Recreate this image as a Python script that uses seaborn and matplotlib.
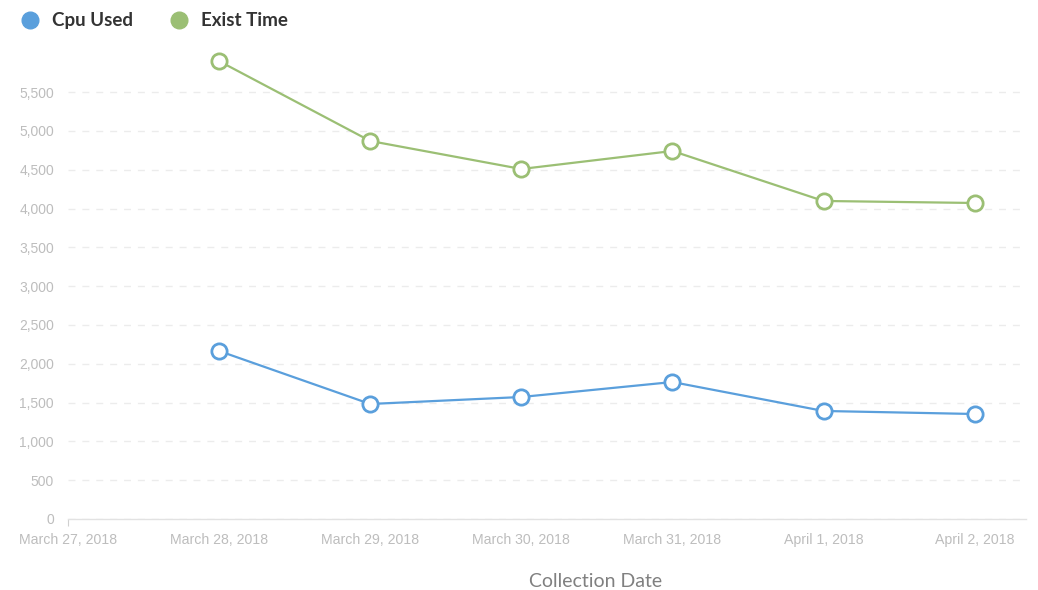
import matplotlib
matplotlib.use("Agg")
import matplotlib.pyplot as plt
from matplotlib.lines import Line2D
import seaborn as sns
import pandas as pd

dates = ["March 27, 2018", "March 28, 2018", "March 29, 2018", "March 30, 2018",
         "March 31, 2018", "April 1, 2018", "April 2, 2018"]
data_dates = dates[1:]
cpu_used = [2165, 1482, 1572, 1765, 1392, 1353]
exist_time = [5900, 4871, 4510, 4742, 4098, 4072]
series_names = ["Cpu Used", "Exist Time"]
colors = {"Cpu Used": "#5a9fdc", "Exist Time": "#9bbf74"}
yticks = list(range(0, 6000, 500))

rows = []
for name, vals in zip(series_names, [cpu_used, exist_time]):
    for d, v in zip(data_dates, vals):
        rows.append({"date": d, "pos": dates.index(d), "value": v, "series": name})
df = pd.DataFrame(rows)

sns.set_theme(style="white")
plt.rcParams["font.family"] = ["Liberation Sans", "DejaVu Sans"]

fig = plt.figure(figsize=(10.38, 5.90), dpi=100)
ax = fig.add_axes([68/1038, 1-519/590, (1026-68)/1038, (519-45.6)/590])

sns.lineplot(data=df, x="pos", y="value", hue="series", palette=colors,
             marker="o", markersize=11, markerfacecolor="white",
             markeredgewidth=2, linewidth=1.6, ax=ax, legend=False)
for line, name in zip(ax.get_lines(), series_names):
    line.set_markeredgecolor(colors[name])

ax.set_xlim(0, 6.34)
ax.set_ylim(0, 6100)
ax.set_xticks(range(len(dates)))
ax.set_xticklabels(dates)
ax.set_yticks(yticks)
ax.set_yticklabels([f"{t:,}" for t in yticks])
ax.tick_params(axis="x", colors="#d0d0d0", labelsize=10.2, length=5, width=0.8,
               bottom=True, pad=5, labelcolor="#bdbdbd")
for i, t in enumerate(ax.xaxis.get_major_ticks()):
    if i > 0:
        t.tick1line.set_visible(False)
ax.tick_params(axis="y", labelsize=10, length=0, pad=10, labelcolor="#bdbdbd")
ax.yaxis.grid(True, linestyle=(0, (5, 5)), color="#ececec", linewidth=1)
ax.set_axisbelow(True)
for s in ["top", "right", "left"]:
    ax.spines[s].set_visible(False)
ax.spines["bottom"].set_color("#e2e2e2")
ax.spines["bottom"].set_linewidth(1)

ax.set_xlabel("Collection Date", family=["Lato", "DejaVu Sans"], fontsize=14,
              color="#808080")
ax.xaxis.set_label_coords((596-68)/(1026-68), -0.114)
ax.set_ylabel("")

handles = [Line2D([0], [0], marker="o", linestyle="none", markersize=12,
                  markerfacecolor=colors[n], markeredgecolor=colors[n]) for n in series_names]
fig.legend(handles, series_names, loc="upper left", bbox_to_anchor=(0/1038, 1.0 - 1/590),
           ncol=2, frameon=False, handletextpad=0.2, columnspacing=1.4,
           prop={"family": ["Lato", "DejaVu Sans"], "weight": "bold", "size": 13.5},
           labelcolor="#333333", borderaxespad=0.2)

fig.savefig("out.png", dpi=100, facecolor="white")
